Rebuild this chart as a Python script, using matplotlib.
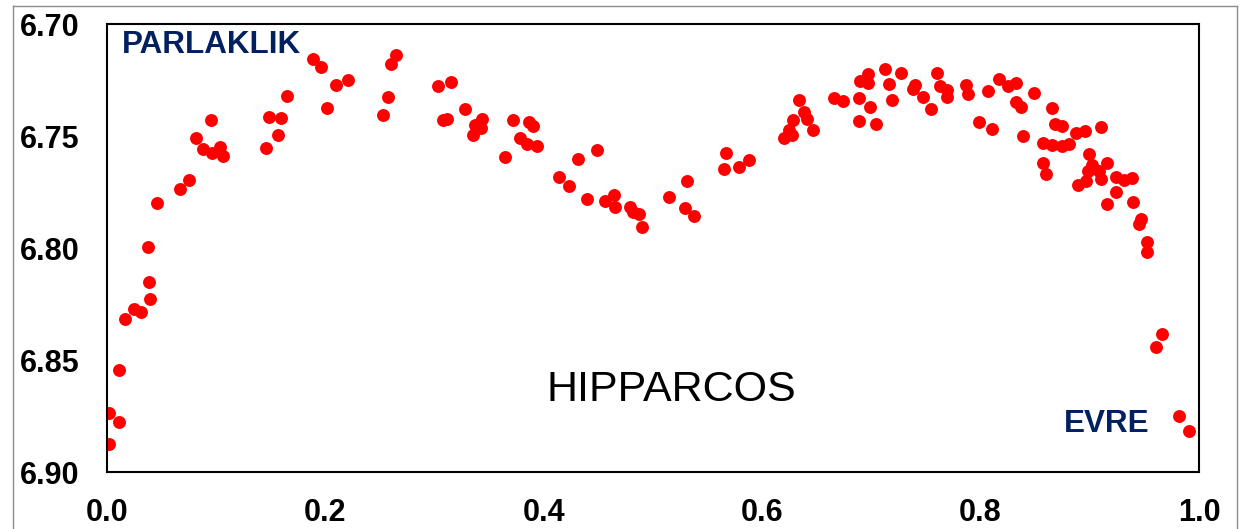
import matplotlib.pyplot as plt
from matplotlib.lines import Line2D

plt.rcParams['font.family'] = ['Liberation Sans', 'DejaVu Sans']

evre = [0.0021, 0.0021, 0.0107, 0.0107, 0.0168, 0.0245, 0.0314, 0.0391, 0.0382, 0.0375,
        0.0458, 0.0668, 0.0751, 0.0812, 0.0882, 0.0952, 0.0964, 0.1035, 0.1065, 0.1453,
        0.1486, 0.1591, 0.1569, 0.1646, 0.1889, 0.1957, 0.2012, 0.2094, 0.2207, 0.2525,
        0.2573, 0.2604, 0.2649, 0.3028, 0.3153, 0.3074, 0.3111, 0.3281, 0.3431, 0.3370,
        0.3425, 0.3349, 0.3721, 0.3864, 0.3898, 0.3782, 0.3843, 0.3935, 0.3642, 0.4142,
        0.4228, 0.4310, 0.4485, 0.4393, 0.4560, 0.4646, 0.4652, 0.4789, 0.4820, 0.4875,
        0.4897, 0.5147, 0.5314, 0.5293, 0.5375, 0.5668, 0.5650, 0.5785, 0.5876, 0.6200,
        0.6245, 0.6270, 0.6279, 0.6334, 0.6383, 0.6407, 0.6462, 0.6658, 0.6737, 0.6884,
        0.6884, 0.6896, 0.6969, 0.6966, 0.6987, 0.7042, 0.7127, 0.7161, 0.7192, 0.7274,
        0.7384, 0.7397, 0.7470, 0.7549, 0.7604, 0.7628, 0.7690, 0.7695, 0.7864, 0.7882,
        0.7985, 0.8065, 0.8107, 0.8168, 0.8253, 0.8320, 0.8324, 0.8370, 0.8386, 0.8489,
        0.8569, 0.8574, 0.8596, 0.8651, 0.8657, 0.8681, 0.8743, 0.8743, 0.8812, 0.8874,
        0.8889, 0.8956, 0.8962, 0.8986, 0.8993, 0.9017, 0.9087, 0.9100, 0.9100, 0.9161,
        0.9161, 0.9237, 0.9240, 0.9316, 0.9384, 0.9393, 0.9453, 0.9469, 0.9524, 0.9524,
        0.9606, 0.9658, 0.9814, 0.9913]

parlaklik = [6.8875, 6.8738, 6.8775, 6.8545, 6.8317, 6.8274, 6.8286, 6.8229, 6.8152, 6.7994,
             6.7800, 6.7735, 6.7696, 6.7510, 6.7558, 6.7427, 6.7577, 6.7549, 6.7588, 6.7552,
             6.7414, 6.7418, 6.7496, 6.7323, 6.7156, 6.7191, 6.7376, 6.7272, 6.7251, 6.7405,
             6.7326, 6.7180, 6.7137, 6.7277, 6.7260, 6.7429, 6.7424, 6.7381, 6.7423, 6.7451,
             6.7466, 6.7496, 6.7429, 6.7436, 6.7455, 6.7508, 6.7537, 6.7545, 6.7595, 6.7682,
             6.7722, 6.7604, 6.7564, 6.7781, 6.7790, 6.7763, 6.7816, 6.7816, 6.7838, 6.7850,
             6.7908, 6.7771, 6.7700, 6.7820, 6.7859, 6.7576, 6.7649, 6.7640, 6.7607, 6.7508,
             6.7473, 6.7496, 6.7427, 6.7339, 6.7391, 6.7425, 6.7475, 6.7329, 6.7342, 6.7330,
             6.7434, 6.7254, 6.7223, 6.7265, 6.7372, 6.7446, 6.7202, 6.7267, 6.7339, 6.7219,
             6.7292, 6.7271, 6.7325, 6.7381, 6.7217, 6.7277, 6.7295, 6.7326, 6.7272, 6.7313,
             6.7439, 6.7298, 6.7467, 6.7244, 6.7277, 6.7347, 6.7265, 6.7369, 6.7500, 6.7307,
             6.7622, 6.7533, 6.7670, 6.7540, 6.7376, 6.7448, 6.7455, 6.7545, 6.7536, 6.7488,
             6.7720, 6.7476, 6.7701, 6.7656, 6.7580, 6.7629, 6.7656, 6.7458, 6.7693, 6.7622,
             6.7802, 6.7749, 6.7682, 6.7696, 6.7688, 6.7795, 6.7894, 6.7872, 6.7972, 6.8017,
             6.8441, 6.8385, 6.8749, 6.8816]

x_ticks = [0.0, 0.2, 0.4, 0.6, 0.8, 1.0]
y_ticks = [6.70, 6.75, 6.80, 6.85, 6.90]

fig = plt.figure(figsize=(12.47, 5.29), dpi=100)
ax = fig.add_axes([107 / 1247, 57 / 529, 1092 / 1247, 448 / 529])

ax.plot(evre, parlaklik, 'o', color='#ff0000', markersize=9.3, markeredgewidth=0)

ax.set_xlim(0, 1)
ax.set_ylim(6.90, 6.70)
ax.set_xticks(x_ticks)
ax.set_xticklabels([f"{v:.1f}" for v in x_ticks])
ax.set_yticks(y_ticks)
ax.set_yticklabels([f"{v:.2f}" for v in y_ticks])
ax.tick_params(length=0, labelsize=22)
ax.tick_params(axis='x', pad=19)
ax.tick_params(axis='y', pad=20)
for lbl in ax.get_xticklabels() + ax.get_yticklabels():
    lbl.set_fontweight('bold')
for sp in ax.spines.values():
    sp.set_linewidth(1.5)
    sp.set_color('black')

ax.text(0.0137, 0.953, "PARLAKLIK", transform=ax.transAxes, fontsize=22.6,
        fontweight='bold', color='#002060', va='center', ha='left')
ax.text(0.8764, 0.108, "EVRE", transform=ax.transAxes, fontsize=22.6,
        fontweight='bold', color='#002060', va='center', ha='left')
ax.text(0.5165, 0.183, "HIPPARCOS", transform=ax.transAxes, fontsize=31,
        color='black', va='center', ha='center')

# outer chart border (cut off at the bottom)
W, H = 1247, 529
border = dict(color='#8c8c8c', linewidth=1.0, transform=fig.transFigure)
fig.add_artist(Line2D([13 / W, 13 / W], [0, 1 - 6 / H], **border))
fig.add_artist(Line2D([13 / W, 1237 / W], [1 - 6 / H, 1 - 6 / H], **border))
fig.add_artist(Line2D([1237 / W, 1237 / W], [0, 1 - 6 / H], **border))

plt.savefig("out.png", dpi=100)
